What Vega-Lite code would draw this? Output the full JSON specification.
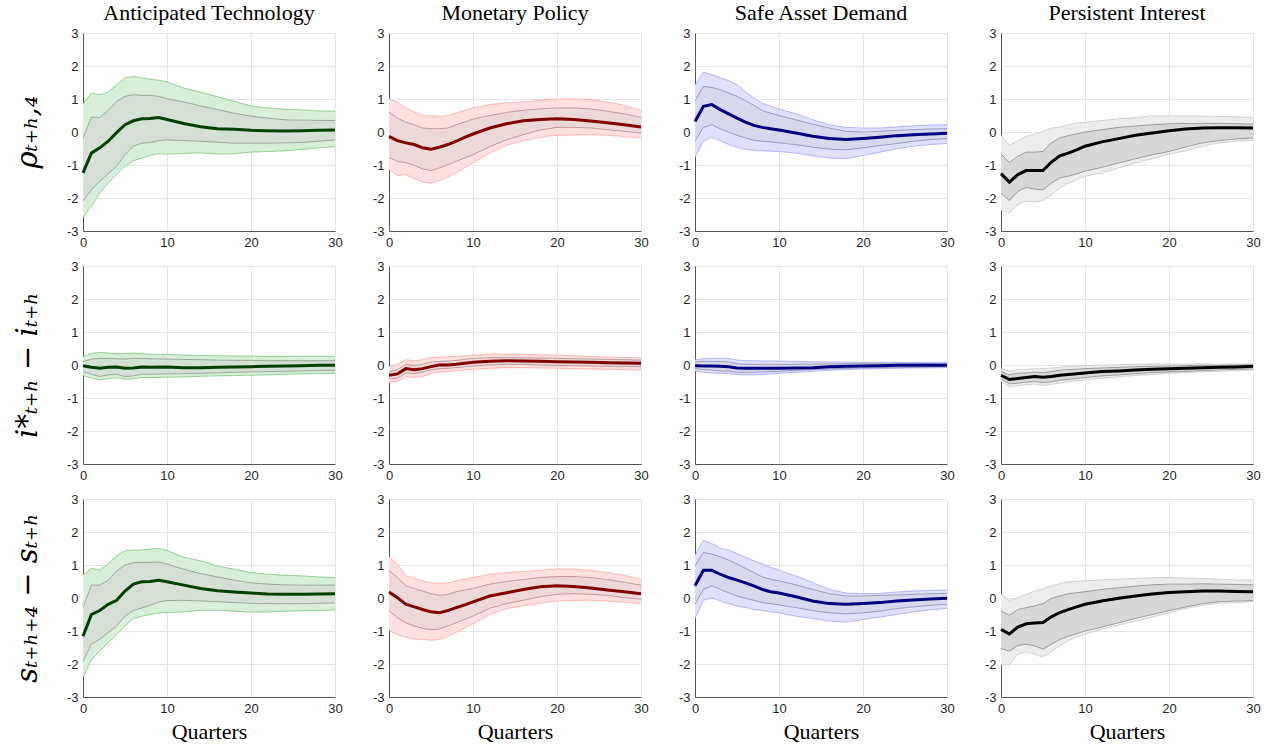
{
"$schema":"https://vega.github.io/schema/vega-lite/v6.json",
"padding":{"left":13,"top":2,"right":10,"bottom":5},
"background":"white",
"datasets":{"irf":[
{"row":1,"shock":"AT","h":0,"irf":-1.24,"lo68":-2.10,"hi68":-0.18,"lo90":-2.60,"hi90":0.85},
{"row":1,"shock":"AT","h":1,"irf":-0.64,"lo68":-1.75,"hi68":0.45,"lo90":-2.25,"hi90":1.18},
{"row":1,"shock":"AT","h":2,"irf":-0.48,"lo68":-1.50,"hi68":0.44,"lo90":-1.85,"hi90":1.13},
{"row":1,"shock":"AT","h":3,"irf":-0.28,"lo68":-1.26,"hi68":0.65,"lo90":-1.55,"hi90":1.21},
{"row":1,"shock":"AT","h":4,"irf":-0.02,"lo68":-1.04,"hi68":0.93,"lo90":-1.29,"hi90":1.43},
{"row":1,"shock":"AT","h":5,"irf":0.22,"lo68":-0.69,"hi68":1.08,"lo90":-1.04,"hi90":1.64},
{"row":1,"shock":"AT","h":6,"irf":0.34,"lo68":-0.43,"hi68":1.13,"lo90":-0.87,"hi90":1.68},
{"row":1,"shock":"AT","h":7,"irf":0.40,"lo68":-0.34,"hi68":1.11,"lo90":-0.79,"hi90":1.64},
{"row":1,"shock":"AT","h":8,"irf":0.41,"lo68":-0.32,"hi68":1.11,"lo90":-0.71,"hi90":1.60},
{"row":1,"shock":"AT","h":9,"irf":0.44,"lo68":-0.26,"hi68":1.08,"lo90":-0.66,"hi90":1.57},
{"row":1,"shock":"AT","h":10,"irf":0.38,"lo68":-0.24,"hi68":1.01,"lo90":-0.67,"hi90":1.52},
{"row":1,"shock":"AT","h":12,"irf":0.26,"lo68":-0.26,"hi68":0.91,"lo90":-0.65,"hi90":1.33},
{"row":1,"shock":"AT","h":14,"irf":0.16,"lo68":-0.28,"hi68":0.79,"lo90":-0.63,"hi90":1.21},
{"row":1,"shock":"AT","h":16,"irf":0.10,"lo68":-0.31,"hi68":0.68,"lo90":-0.67,"hi90":1.07},
{"row":1,"shock":"AT","h":18,"irf":0.08,"lo68":-0.34,"hi68":0.57,"lo90":-0.66,"hi90":0.93},
{"row":1,"shock":"AT","h":20,"irf":0.05,"lo68":-0.34,"hi68":0.48,"lo90":-0.61,"hi90":0.79},
{"row":1,"shock":"AT","h":22,"irf":0.04,"lo68":-0.34,"hi68":0.42,"lo90":-0.59,"hi90":0.73},
{"row":1,"shock":"AT","h":24,"irf":0.03,"lo68":-0.33,"hi68":0.37,"lo90":-0.57,"hi90":0.69},
{"row":1,"shock":"AT","h":26,"irf":0.04,"lo68":-0.32,"hi68":0.36,"lo90":-0.53,"hi90":0.67},
{"row":1,"shock":"AT","h":28,"irf":0.05,"lo68":-0.28,"hi68":0.35,"lo90":-0.48,"hi90":0.64},
{"row":1,"shock":"AT","h":30,"irf":0.06,"lo68":-0.24,"hi68":0.35,"lo90":-0.44,"hi90":0.63},
{"row":1,"shock":"MP","h":0,"irf":-0.13,"lo68":-0.77,"hi68":0.60,"lo90":-1.14,"hi90":1.00},
{"row":1,"shock":"MP","h":1,"irf":-0.26,"lo68":-0.89,"hi68":0.42,"lo90":-1.32,"hi90":0.91},
{"row":1,"shock":"MP","h":2,"irf":-0.33,"lo68":-0.93,"hi68":0.30,"lo90":-1.29,"hi90":0.73},
{"row":1,"shock":"MP","h":3,"irf":-0.38,"lo68":-1.01,"hi68":0.22,"lo90":-1.41,"hi90":0.61},
{"row":1,"shock":"MP","h":4,"irf":-0.48,"lo68":-1.12,"hi68":0.12,"lo90":-1.52,"hi90":0.50},
{"row":1,"shock":"MP","h":5,"irf":-0.52,"lo68":-1.17,"hi68":0.10,"lo90":-1.55,"hi90":0.49},
{"row":1,"shock":"MP","h":6,"irf":-0.46,"lo68":-1.09,"hi68":0.10,"lo90":-1.47,"hi90":0.47},
{"row":1,"shock":"MP","h":7,"irf":-0.38,"lo68":-0.99,"hi68":0.12,"lo90":-1.37,"hi90":0.50},
{"row":1,"shock":"MP","h":8,"irf":-0.28,"lo68":-0.89,"hi68":0.22,"lo90":-1.24,"hi90":0.58},
{"row":1,"shock":"MP","h":9,"irf":-0.16,"lo68":-0.79,"hi68":0.30,"lo90":-1.09,"hi90":0.66},
{"row":1,"shock":"MP","h":10,"irf":-0.06,"lo68":-0.69,"hi68":0.39,"lo90":-0.94,"hi90":0.73},
{"row":1,"shock":"MP","h":12,"irf":0.12,"lo68":-0.44,"hi68":0.50,"lo90":-0.64,"hi90":0.83},
{"row":1,"shock":"MP","h":14,"irf":0.25,"lo68":-0.24,"hi68":0.59,"lo90":-0.40,"hi90":0.88},
{"row":1,"shock":"MP","h":16,"irf":0.34,"lo68":-0.08,"hi68":0.66,"lo90":-0.26,"hi90":0.91},
{"row":1,"shock":"MP","h":18,"irf":0.38,"lo68":0.06,"hi68":0.70,"lo90":-0.16,"hi90":0.96},
{"row":1,"shock":"MP","h":20,"irf":0.40,"lo68":0.14,"hi68":0.73,"lo90":-0.10,"hi90":1.00},
{"row":1,"shock":"MP","h":22,"irf":0.38,"lo68":0.14,"hi68":0.73,"lo90":-0.09,"hi90":1.00},
{"row":1,"shock":"MP","h":24,"irf":0.33,"lo68":0.12,"hi68":0.70,"lo90":-0.08,"hi90":0.98},
{"row":1,"shock":"MP","h":26,"irf":0.28,"lo68":0.07,"hi68":0.63,"lo90":-0.10,"hi90":0.91},
{"row":1,"shock":"MP","h":28,"irf":0.22,"lo68":0.02,"hi68":0.55,"lo90":-0.14,"hi90":0.81},
{"row":1,"shock":"MP","h":30,"irf":0.15,"lo68":-0.03,"hi68":0.44,"lo90":-0.18,"hi90":0.65},
{"row":1,"shock":"SAD","h":0,"irf":0.32,"lo68":-0.28,"hi68":0.95,"lo90":-0.77,"hi90":1.41},
{"row":1,"shock":"SAD","h":1,"irf":0.78,"lo68":0.14,"hi68":1.38,"lo90":-0.28,"hi90":1.82},
{"row":1,"shock":"SAD","h":2,"irf":0.83,"lo68":0.22,"hi68":1.35,"lo90":-0.16,"hi90":1.74},
{"row":1,"shock":"SAD","h":3,"irf":0.68,"lo68":0.10,"hi68":1.28,"lo90":-0.26,"hi90":1.64},
{"row":1,"shock":"SAD","h":4,"irf":0.55,"lo68":0.00,"hi68":1.18,"lo90":-0.38,"hi90":1.56},
{"row":1,"shock":"SAD","h":5,"irf":0.42,"lo68":-0.10,"hi68":1.08,"lo90":-0.46,"hi90":1.43},
{"row":1,"shock":"SAD","h":6,"irf":0.30,"lo68":-0.18,"hi68":0.95,"lo90":-0.52,"hi90":1.23},
{"row":1,"shock":"SAD","h":7,"irf":0.20,"lo68":-0.25,"hi68":0.81,"lo90":-0.55,"hi90":1.03},
{"row":1,"shock":"SAD","h":8,"irf":0.14,"lo68":-0.28,"hi68":0.65,"lo90":-0.57,"hi90":0.88},
{"row":1,"shock":"SAD","h":9,"irf":0.10,"lo68":-0.30,"hi68":0.57,"lo90":-0.58,"hi90":0.78},
{"row":1,"shock":"SAD","h":10,"irf":0.06,"lo68":-0.33,"hi68":0.50,"lo90":-0.59,"hi90":0.70},
{"row":1,"shock":"SAD","h":12,"irf":-0.03,"lo68":-0.38,"hi68":0.37,"lo90":-0.64,"hi90":0.55},
{"row":1,"shock":"SAD","h":14,"irf":-0.13,"lo68":-0.46,"hi68":0.24,"lo90":-0.72,"hi90":0.37},
{"row":1,"shock":"SAD","h":16,"irf":-0.20,"lo68":-0.52,"hi68":0.12,"lo90":-0.79,"hi90":0.22},
{"row":1,"shock":"SAD","h":18,"irf":-0.23,"lo68":-0.54,"hi68":0.02,"lo90":-0.81,"hi90":0.14},
{"row":1,"shock":"SAD","h":20,"irf":-0.20,"lo68":-0.48,"hi68":0.00,"lo90":-0.71,"hi90":0.12},
{"row":1,"shock":"SAD","h":22,"irf":-0.16,"lo68":-0.41,"hi68":0.02,"lo90":-0.61,"hi90":0.12},
{"row":1,"shock":"SAD","h":24,"irf":-0.11,"lo68":-0.35,"hi68":0.05,"lo90":-0.51,"hi90":0.15},
{"row":1,"shock":"SAD","h":26,"irf":-0.08,"lo68":-0.28,"hi68":0.07,"lo90":-0.43,"hi90":0.19},
{"row":1,"shock":"SAD","h":28,"irf":-0.06,"lo68":-0.23,"hi68":0.09,"lo90":-0.38,"hi90":0.21},
{"row":1,"shock":"SAD","h":30,"irf":-0.04,"lo68":-0.20,"hi68":0.10,"lo90":-0.35,"hi90":0.22},
{"row":1,"shock":"PI","h":0,"irf":-1.26,"lo68":-1.85,"hi68":-0.67,"lo90":-2.38,"hi90":-0.10},
{"row":1,"shock":"PI","h":1,"irf":-1.52,"lo68":-2.08,"hi68":-0.92,"lo90":-2.45,"hi90":-0.40},
{"row":1,"shock":"PI","h":2,"irf":-1.29,"lo68":-1.80,"hi68":-0.74,"lo90":-2.20,"hi90":-0.26},
{"row":1,"shock":"PI","h":3,"irf":-1.17,"lo68":-1.68,"hi68":-0.61,"lo90":-2.10,"hi90":-0.13},
{"row":1,"shock":"PI","h":4,"irf":-1.17,"lo68":-1.73,"hi68":-0.61,"lo90":-2.12,"hi90":-0.06},
{"row":1,"shock":"PI","h":5,"irf":-1.17,"lo68":-1.75,"hi68":-0.59,"lo90":-2.08,"hi90":0.02},
{"row":1,"shock":"PI","h":6,"irf":-0.91,"lo68":-1.55,"hi68":-0.33,"lo90":-1.90,"hi90":0.12},
{"row":1,"shock":"PI","h":7,"irf":-0.72,"lo68":-1.39,"hi68":-0.18,"lo90":-1.70,"hi90":0.15},
{"row":1,"shock":"PI","h":8,"irf":-0.64,"lo68":-1.34,"hi68":-0.11,"lo90":-1.55,"hi90":0.22},
{"row":1,"shock":"PI","h":9,"irf":-0.54,"lo68":-1.27,"hi68":-0.06,"lo90":-1.44,"hi90":0.27},
{"row":1,"shock":"PI","h":10,"irf":-0.43,"lo68":-1.19,"hi68":0.00,"lo90":-1.34,"hi90":0.29},
{"row":1,"shock":"PI","h":12,"irf":-0.30,"lo68":-1.07,"hi68":0.07,"lo90":-1.24,"hi90":0.35},
{"row":1,"shock":"PI","h":14,"irf":-0.20,"lo68":-0.94,"hi68":0.14,"lo90":-1.09,"hi90":0.40},
{"row":1,"shock":"PI","h":16,"irf":-0.10,"lo68":-0.81,"hi68":0.18,"lo90":-0.94,"hi90":0.44},
{"row":1,"shock":"PI","h":18,"irf":-0.03,"lo68":-0.69,"hi68":0.22,"lo90":-0.81,"hi90":0.49},
{"row":1,"shock":"PI","h":20,"irf":0.04,"lo68":-0.59,"hi68":0.25,"lo90":-0.67,"hi90":0.49},
{"row":1,"shock":"PI","h":22,"irf":0.09,"lo68":-0.45,"hi68":0.26,"lo90":-0.57,"hi90":0.49},
{"row":1,"shock":"PI","h":24,"irf":0.12,"lo68":-0.33,"hi68":0.26,"lo90":-0.43,"hi90":0.48},
{"row":1,"shock":"PI","h":26,"irf":0.13,"lo68":-0.26,"hi68":0.26,"lo90":-0.33,"hi90":0.47},
{"row":1,"shock":"PI","h":28,"irf":0.13,"lo68":-0.21,"hi68":0.25,"lo90":-0.28,"hi90":0.46},
{"row":1,"shock":"PI","h":30,"irf":0.12,"lo68":-0.18,"hi68":0.24,"lo90":-0.25,"hi90":0.44},
{"row":2,"shock":"AT","h":0,"irf":-0.02,"lo68":-0.20,"hi68":0.10,"lo90":-0.32,"hi90":0.25},
{"row":2,"shock":"AT","h":1,"irf":-0.07,"lo68":-0.28,"hi68":0.18,"lo90":-0.40,"hi90":0.35},
{"row":2,"shock":"AT","h":2,"irf":-0.10,"lo68":-0.35,"hi68":0.20,"lo90":-0.45,"hi90":0.38},
{"row":2,"shock":"AT","h":3,"irf":-0.07,"lo68":-0.30,"hi68":0.20,"lo90":-0.42,"hi90":0.36},
{"row":2,"shock":"AT","h":4,"irf":-0.06,"lo68":-0.28,"hi68":0.19,"lo90":-0.38,"hi90":0.34},
{"row":2,"shock":"AT","h":5,"irf":-0.10,"lo68":-0.35,"hi68":0.18,"lo90":-0.43,"hi90":0.35},
{"row":2,"shock":"AT","h":6,"irf":-0.09,"lo68":-0.33,"hi68":0.20,"lo90":-0.42,"hi90":0.36},
{"row":2,"shock":"AT","h":7,"irf":-0.06,"lo68":-0.28,"hi68":0.20,"lo90":-0.38,"hi90":0.34},
{"row":2,"shock":"AT","h":8,"irf":-0.07,"lo68":-0.28,"hi68":0.19,"lo90":-0.38,"hi90":0.33},
{"row":2,"shock":"AT","h":10,"irf":-0.06,"lo68":-0.27,"hi68":0.18,"lo90":-0.37,"hi90":0.32},
{"row":2,"shock":"AT","h":12,"irf":-0.08,"lo68":-0.26,"hi68":0.17,"lo90":-0.36,"hi90":0.30},
{"row":2,"shock":"AT","h":14,"irf":-0.08,"lo68":-0.25,"hi68":0.16,"lo90":-0.34,"hi90":0.29},
{"row":2,"shock":"AT","h":16,"irf":-0.07,"lo68":-0.24,"hi68":0.15,"lo90":-0.33,"hi90":0.28},
{"row":2,"shock":"AT","h":18,"irf":-0.06,"lo68":-0.22,"hi68":0.14,"lo90":-0.32,"hi90":0.27},
{"row":2,"shock":"AT","h":20,"irf":-0.05,"lo68":-0.21,"hi68":0.14,"lo90":-0.31,"hi90":0.27},
{"row":2,"shock":"AT","h":22,"irf":-0.04,"lo68":-0.20,"hi68":0.13,"lo90":-0.30,"hi90":0.26},
{"row":2,"shock":"AT","h":24,"irf":-0.03,"lo68":-0.19,"hi68":0.13,"lo90":-0.28,"hi90":0.26},
{"row":2,"shock":"AT","h":26,"irf":-0.02,"lo68":-0.18,"hi68":0.13,"lo90":-0.27,"hi90":0.26},
{"row":2,"shock":"AT","h":28,"irf":-0.01,"lo68":-0.17,"hi68":0.13,"lo90":-0.26,"hi90":0.26},
{"row":2,"shock":"AT","h":30,"irf":-0.01,"lo68":-0.16,"hi68":0.13,"lo90":-0.25,"hi90":0.26},
{"row":2,"shock":"MP","h":0,"irf":-0.31,"lo68":-0.42,"hi68":-0.20,"lo90":-0.53,"hi90":-0.05},
{"row":2,"shock":"MP","h":1,"irf":-0.27,"lo68":-0.40,"hi68":-0.14,"lo90":-0.50,"hi90":0.02},
{"row":2,"shock":"MP","h":2,"irf":-0.11,"lo68":-0.24,"hi68":0.02,"lo90":-0.35,"hi90":0.16},
{"row":2,"shock":"MP","h":3,"irf":-0.14,"lo68":-0.26,"hi68":-0.02,"lo90":-0.38,"hi90":0.13},
{"row":2,"shock":"MP","h":4,"irf":-0.11,"lo68":-0.22,"hi68":0.02,"lo90":-0.35,"hi90":0.16},
{"row":2,"shock":"MP","h":5,"irf":-0.05,"lo68":-0.15,"hi68":0.09,"lo90":-0.26,"hi90":0.22},
{"row":2,"shock":"MP","h":6,"irf":0.00,"lo68":-0.11,"hi68":0.11,"lo90":-0.22,"hi90":0.24},
{"row":2,"shock":"MP","h":7,"irf":0.00,"lo68":-0.10,"hi68":0.12,"lo90":-0.20,"hi90":0.25},
{"row":2,"shock":"MP","h":8,"irf":0.02,"lo68":-0.08,"hi68":0.14,"lo90":-0.18,"hi90":0.26},
{"row":2,"shock":"MP","h":10,"irf":0.08,"lo68":-0.03,"hi68":0.20,"lo90":-0.13,"hi90":0.30},
{"row":2,"shock":"MP","h":12,"irf":0.11,"lo68":0.00,"hi68":0.22,"lo90":-0.10,"hi90":0.33},
{"row":2,"shock":"MP","h":14,"irf":0.13,"lo68":0.02,"hi68":0.23,"lo90":-0.08,"hi90":0.33},
{"row":2,"shock":"MP","h":16,"irf":0.12,"lo68":0.02,"hi68":0.22,"lo90":-0.08,"hi90":0.32},
{"row":2,"shock":"MP","h":18,"irf":0.11,"lo68":0.00,"hi68":0.21,"lo90":-0.09,"hi90":0.31},
{"row":2,"shock":"MP","h":20,"irf":0.10,"lo68":-0.01,"hi68":0.20,"lo90":-0.10,"hi90":0.30},
{"row":2,"shock":"MP","h":22,"irf":0.09,"lo68":-0.02,"hi68":0.19,"lo90":-0.11,"hi90":0.28},
{"row":2,"shock":"MP","h":24,"irf":0.08,"lo68":-0.03,"hi68":0.18,"lo90":-0.12,"hi90":0.26},
{"row":2,"shock":"MP","h":26,"irf":0.07,"lo68":-0.04,"hi68":0.17,"lo90":-0.13,"hi90":0.24},
{"row":2,"shock":"MP","h":28,"irf":0.06,"lo68":-0.04,"hi68":0.16,"lo90":-0.14,"hi90":0.23},
{"row":2,"shock":"MP","h":30,"irf":0.05,"lo68":-0.05,"hi68":0.15,"lo90":-0.15,"hi90":0.22},
{"row":2,"shock":"SAD","h":0,"irf":-0.02,"lo68":-0.11,"hi68":0.09,"lo90":-0.18,"hi90":0.16},
{"row":2,"shock":"SAD","h":1,"irf":-0.03,"lo68":-0.14,"hi68":0.11,"lo90":-0.22,"hi90":0.19},
{"row":2,"shock":"SAD","h":2,"irf":-0.03,"lo68":-0.15,"hi68":0.11,"lo90":-0.24,"hi90":0.20},
{"row":2,"shock":"SAD","h":3,"irf":-0.04,"lo68":-0.18,"hi68":0.11,"lo90":-0.25,"hi90":0.20},
{"row":2,"shock":"SAD","h":4,"irf":-0.05,"lo68":-0.18,"hi68":0.09,"lo90":-0.26,"hi90":0.20},
{"row":2,"shock":"SAD","h":5,"irf":-0.09,"lo68":-0.22,"hi68":0.04,"lo90":-0.29,"hi90":0.15},
{"row":2,"shock":"SAD","h":6,"irf":-0.10,"lo68":-0.22,"hi68":0.02,"lo90":-0.30,"hi90":0.13},
{"row":2,"shock":"SAD","h":7,"irf":-0.10,"lo68":-0.22,"hi68":0.02,"lo90":-0.30,"hi90":0.13},
{"row":2,"shock":"SAD","h":8,"irf":-0.10,"lo68":-0.21,"hi68":0.02,"lo90":-0.29,"hi90":0.12},
{"row":2,"shock":"SAD","h":10,"irf":-0.10,"lo68":-0.19,"hi68":0.02,"lo90":-0.25,"hi90":0.12},
{"row":2,"shock":"SAD","h":12,"irf":-0.09,"lo68":-0.16,"hi68":0.02,"lo90":-0.22,"hi90":0.11},
{"row":2,"shock":"SAD","h":14,"irf":-0.08,"lo68":-0.14,"hi68":0.03,"lo90":-0.19,"hi90":0.10},
{"row":2,"shock":"SAD","h":16,"irf":-0.05,"lo68":-0.12,"hi68":0.03,"lo90":-0.16,"hi90":0.09},
{"row":2,"shock":"SAD","h":18,"irf":-0.04,"lo68":-0.10,"hi68":0.04,"lo90":-0.14,"hi90":0.09},
{"row":2,"shock":"SAD","h":20,"irf":-0.03,"lo68":-0.09,"hi68":0.04,"lo90":-0.12,"hi90":0.08},
{"row":2,"shock":"SAD","h":22,"irf":-0.02,"lo68":-0.08,"hi68":0.04,"lo90":-0.11,"hi90":0.08},
{"row":2,"shock":"SAD","h":24,"irf":-0.01,"lo68":-0.07,"hi68":0.04,"lo90":-0.10,"hi90":0.08},
{"row":2,"shock":"SAD","h":26,"irf":-0.01,"lo68":-0.07,"hi68":0.04,"lo90":-0.09,"hi90":0.08},
{"row":2,"shock":"SAD","h":28,"irf":-0.01,"lo68":-0.06,"hi68":0.04,"lo90":-0.09,"hi90":0.08},
{"row":2,"shock":"SAD","h":30,"irf":-0.01,"lo68":-0.05,"hi68":0.04,"lo90":-0.08,"hi90":0.08},
{"row":2,"shock":"PI","h":0,"irf":-0.31,"lo68":-0.42,"hi68":-0.20,"lo90":-0.49,"hi90":-0.11},
{"row":2,"shock":"PI","h":1,"irf":-0.44,"lo68":-0.57,"hi68":-0.29,"lo90":-0.66,"hi90":-0.18},
{"row":2,"shock":"PI","h":2,"irf":-0.41,"lo68":-0.55,"hi68":-0.25,"lo90":-0.62,"hi90":-0.14},
{"row":2,"shock":"PI","h":3,"irf":-0.38,"lo68":-0.52,"hi68":-0.24,"lo90":-0.60,"hi90":-0.13},
{"row":2,"shock":"PI","h":4,"irf":-0.35,"lo68":-0.50,"hi68":-0.22,"lo90":-0.58,"hi90":-0.11},
{"row":2,"shock":"PI","h":5,"irf":-0.37,"lo68":-0.53,"hi68":-0.23,"lo90":-0.62,"hi90":-0.11},
{"row":2,"shock":"PI","h":6,"irf":-0.35,"lo68":-0.51,"hi68":-0.20,"lo90":-0.59,"hi90":-0.09},
{"row":2,"shock":"PI","h":7,"irf":-0.31,"lo68":-0.46,"hi68":-0.16,"lo90":-0.54,"hi90":-0.07},
{"row":2,"shock":"PI","h":8,"irf":-0.29,"lo68":-0.44,"hi68":-0.14,"lo90":-0.51,"hi90":-0.04},
{"row":2,"shock":"PI","h":10,"irf":-0.24,"lo68":-0.38,"hi68":-0.11,"lo90":-0.45,"hi90":-0.02},
{"row":2,"shock":"PI","h":12,"irf":-0.20,"lo68":-0.33,"hi68":-0.09,"lo90":-0.40,"hi90":0.00},
{"row":2,"shock":"PI","h":14,"irf":-0.18,"lo68":-0.30,"hi68":-0.07,"lo90":-0.36,"hi90":0.01},
{"row":2,"shock":"PI","h":16,"irf":-0.15,"lo68":-0.26,"hi68":-0.05,"lo90":-0.32,"hi90":0.02},
{"row":2,"shock":"PI","h":18,"irf":-0.13,"lo68":-0.23,"hi68":-0.04,"lo90":-0.29,"hi90":0.03},
{"row":2,"shock":"PI","h":20,"irf":-0.11,"lo68":-0.21,"hi68":-0.03,"lo90":-0.25,"hi90":0.03},
{"row":2,"shock":"PI","h":22,"irf":-0.10,"lo68":-0.19,"hi68":-0.02,"lo90":-0.23,"hi90":0.03},
{"row":2,"shock":"PI","h":24,"irf":-0.08,"lo68":-0.17,"hi68":-0.01,"lo90":-0.21,"hi90":0.03},
{"row":2,"shock":"PI","h":26,"irf":-0.07,"lo68":-0.15,"hi68":-0.01,"lo90":-0.19,"hi90":0.03},
{"row":2,"shock":"PI","h":28,"irf":-0.06,"lo68":-0.13,"hi68":0.00,"lo90":-0.17,"hi90":0.03},
{"row":2,"shock":"PI","h":30,"irf":-0.04,"lo68":-0.12,"hi68":0.00,"lo90":-0.15,"hi90":0.03},
{"row":3,"shock":"AT","h":0,"irf":-1.16,"lo68":-1.92,"hi68":-0.29,"lo90":-2.41,"hi90":0.70},
{"row":3,"shock":"AT","h":1,"irf":-0.50,"lo68":-1.40,"hi68":0.39,"lo90":-1.87,"hi90":0.90},
{"row":3,"shock":"AT","h":2,"irf":-0.38,"lo68":-1.25,"hi68":0.39,"lo90":-1.61,"hi90":0.84},
{"row":3,"shock":"AT","h":3,"irf":-0.19,"lo68":-1.05,"hi68":0.54,"lo90":-1.36,"hi90":1.03},
{"row":3,"shock":"AT","h":4,"irf":-0.07,"lo68":-0.85,"hi68":0.82,"lo90":-1.11,"hi90":1.28},
{"row":3,"shock":"AT","h":5,"irf":0.21,"lo68":-0.55,"hi68":1.00,"lo90":-0.85,"hi90":1.43},
{"row":3,"shock":"AT","h":6,"irf":0.42,"lo68":-0.38,"hi68":1.07,"lo90":-0.62,"hi90":1.45},
{"row":3,"shock":"AT","h":7,"irf":0.49,"lo68":-0.30,"hi68":1.08,"lo90":-0.55,"hi90":1.46},
{"row":3,"shock":"AT","h":8,"irf":0.50,"lo68":-0.22,"hi68":1.08,"lo90":-0.50,"hi90":1.48},
{"row":3,"shock":"AT","h":9,"irf":0.54,"lo68":-0.12,"hi68":1.09,"lo90":-0.45,"hi90":1.50},
{"row":3,"shock":"AT","h":10,"irf":0.49,"lo68":-0.08,"hi68":1.03,"lo90":-0.44,"hi90":1.45},
{"row":3,"shock":"AT","h":12,"irf":0.39,"lo68":-0.07,"hi68":0.87,"lo90":-0.42,"hi90":1.23},
{"row":3,"shock":"AT","h":14,"irf":0.29,"lo68":-0.09,"hi68":0.74,"lo90":-0.37,"hi90":1.13},
{"row":3,"shock":"AT","h":16,"irf":0.22,"lo68":-0.11,"hi68":0.64,"lo90":-0.37,"hi90":0.97},
{"row":3,"shock":"AT","h":18,"irf":0.18,"lo68":-0.14,"hi68":0.54,"lo90":-0.40,"hi90":0.87},
{"row":3,"shock":"AT","h":20,"irf":0.15,"lo68":-0.16,"hi68":0.46,"lo90":-0.43,"hi90":0.77},
{"row":3,"shock":"AT","h":22,"irf":0.12,"lo68":-0.17,"hi68":0.42,"lo90":-0.42,"hi90":0.72},
{"row":3,"shock":"AT","h":24,"irf":0.11,"lo68":-0.17,"hi68":0.40,"lo90":-0.40,"hi90":0.69},
{"row":3,"shock":"AT","h":26,"irf":0.11,"lo68":-0.17,"hi68":0.39,"lo90":-0.39,"hi90":0.67},
{"row":3,"shock":"AT","h":28,"irf":0.12,"lo68":-0.16,"hi68":0.39,"lo90":-0.38,"hi90":0.64},
{"row":3,"shock":"AT","h":30,"irf":0.13,"lo68":-0.15,"hi68":0.39,"lo90":-0.36,"hi90":0.62},
{"row":3,"shock":"MP","h":0,"irf":0.18,"lo68":-0.38,"hi68":0.84,"lo90":-0.98,"hi90":1.25},
{"row":3,"shock":"MP","h":1,"irf":0.01,"lo68":-0.60,"hi68":0.62,"lo90":-1.11,"hi90":1.03},
{"row":3,"shock":"MP","h":2,"irf":-0.19,"lo68":-0.75,"hi68":0.37,"lo90":-1.19,"hi90":0.67},
{"row":3,"shock":"MP","h":3,"irf":-0.27,"lo68":-0.85,"hi68":0.29,"lo90":-1.24,"hi90":0.60},
{"row":3,"shock":"MP","h":4,"irf":-0.35,"lo68":-0.92,"hi68":0.21,"lo90":-1.26,"hi90":0.52},
{"row":3,"shock":"MP","h":5,"irf":-0.42,"lo68":-0.96,"hi68":0.13,"lo90":-1.28,"hi90":0.46},
{"row":3,"shock":"MP","h":6,"irf":-0.45,"lo68":-0.94,"hi68":0.08,"lo90":-1.26,"hi90":0.44},
{"row":3,"shock":"MP","h":7,"irf":-0.38,"lo68":-0.85,"hi68":0.11,"lo90":-1.16,"hi90":0.46},
{"row":3,"shock":"MP","h":8,"irf":-0.29,"lo68":-0.75,"hi68":0.19,"lo90":-1.04,"hi90":0.52},
{"row":3,"shock":"MP","h":9,"irf":-0.21,"lo68":-0.65,"hi68":0.24,"lo90":-0.91,"hi90":0.57},
{"row":3,"shock":"MP","h":10,"irf":-0.12,"lo68":-0.55,"hi68":0.29,"lo90":-0.78,"hi90":0.62},
{"row":3,"shock":"MP","h":12,"irf":0.06,"lo68":-0.31,"hi68":0.42,"lo90":-0.50,"hi90":0.72},
{"row":3,"shock":"MP","h":14,"irf":0.16,"lo68":-0.17,"hi68":0.50,"lo90":-0.32,"hi90":0.77},
{"row":3,"shock":"MP","h":16,"irf":0.26,"lo68":-0.07,"hi68":0.56,"lo90":-0.24,"hi90":0.80},
{"row":3,"shock":"MP","h":18,"irf":0.34,"lo68":0.04,"hi68":0.62,"lo90":-0.16,"hi90":0.84},
{"row":3,"shock":"MP","h":20,"irf":0.37,"lo68":0.11,"hi68":0.65,"lo90":-0.09,"hi90":0.88},
{"row":3,"shock":"MP","h":22,"irf":0.35,"lo68":0.13,"hi68":0.65,"lo90":-0.07,"hi90":0.88},
{"row":3,"shock":"MP","h":24,"irf":0.30,"lo68":0.11,"hi68":0.62,"lo90":-0.07,"hi90":0.84},
{"row":3,"shock":"MP","h":26,"irf":0.24,"lo68":0.08,"hi68":0.56,"lo90":-0.09,"hi90":0.77},
{"row":3,"shock":"MP","h":28,"irf":0.19,"lo68":0.01,"hi68":0.48,"lo90":-0.13,"hi90":0.69},
{"row":3,"shock":"MP","h":30,"irf":0.13,"lo68":-0.04,"hi68":0.39,"lo90":-0.17,"hi90":0.57},
{"row":3,"shock":"SAD","h":0,"irf":0.37,"lo68":-0.19,"hi68":0.97,"lo90":-0.62,"hi90":1.30},
{"row":3,"shock":"SAD","h":1,"irf":0.84,"lo68":0.26,"hi68":1.38,"lo90":-0.07,"hi90":1.74},
{"row":3,"shock":"SAD","h":2,"irf":0.84,"lo68":0.37,"hi68":1.33,"lo90":0.01,"hi90":1.65},
{"row":3,"shock":"SAD","h":3,"irf":0.72,"lo68":0.26,"hi68":1.25,"lo90":-0.09,"hi90":1.51},
{"row":3,"shock":"SAD","h":4,"irf":0.62,"lo68":0.16,"hi68":1.15,"lo90":-0.17,"hi90":1.45},
{"row":3,"shock":"SAD","h":5,"irf":0.54,"lo68":0.06,"hi68":1.03,"lo90":-0.24,"hi90":1.35},
{"row":3,"shock":"SAD","h":6,"irf":0.46,"lo68":-0.01,"hi68":0.90,"lo90":-0.29,"hi90":1.23},
{"row":3,"shock":"SAD","h":7,"irf":0.37,"lo68":-0.07,"hi68":0.77,"lo90":-0.35,"hi90":1.13},
{"row":3,"shock":"SAD","h":8,"irf":0.26,"lo68":-0.14,"hi68":0.64,"lo90":-0.38,"hi90":1.03},
{"row":3,"shock":"SAD","h":9,"irf":0.19,"lo68":-0.17,"hi68":0.57,"lo90":-0.42,"hi90":0.93},
{"row":3,"shock":"SAD","h":10,"irf":0.15,"lo68":-0.21,"hi68":0.52,"lo90":-0.45,"hi90":0.84},
{"row":3,"shock":"SAD","h":12,"irf":0.04,"lo68":-0.29,"hi68":0.40,"lo90":-0.55,"hi90":0.67},
{"row":3,"shock":"SAD","h":14,"irf":-0.09,"lo68":-0.38,"hi68":0.26,"lo90":-0.62,"hi90":0.47},
{"row":3,"shock":"SAD","h":16,"irf":-0.17,"lo68":-0.45,"hi68":0.13,"lo90":-0.70,"hi90":0.26},
{"row":3,"shock":"SAD","h":18,"irf":-0.19,"lo68":-0.48,"hi68":0.06,"lo90":-0.73,"hi90":0.15},
{"row":3,"shock":"SAD","h":20,"irf":-0.17,"lo68":-0.45,"hi68":0.06,"lo90":-0.65,"hi90":0.13},
{"row":3,"shock":"SAD","h":22,"irf":-0.14,"lo68":-0.40,"hi68":0.08,"lo90":-0.58,"hi90":0.14},
{"row":3,"shock":"SAD","h":24,"irf":-0.09,"lo68":-0.32,"hi68":0.09,"lo90":-0.50,"hi90":0.18},
{"row":3,"shock":"SAD","h":26,"irf":-0.06,"lo68":-0.27,"hi68":0.11,"lo90":-0.42,"hi90":0.21},
{"row":3,"shock":"SAD","h":28,"irf":-0.03,"lo68":-0.22,"hi68":0.13,"lo90":-0.36,"hi90":0.23},
{"row":3,"shock":"SAD","h":30,"irf":-0.01,"lo68":-0.19,"hi68":0.14,"lo90":-0.31,"hi90":0.24},
{"row":3,"shock":"PI","h":0,"irf":-0.95,"lo68":-1.53,"hi68":-0.40,"lo90":-2.02,"hi90":0.11},
{"row":3,"shock":"PI","h":1,"irf":-1.09,"lo68":-1.61,"hi68":-0.52,"lo90":-2.04,"hi90":-0.07},
{"row":3,"shock":"PI","h":2,"irf":-0.88,"lo68":-1.44,"hi68":-0.35,"lo90":-1.70,"hi90":0.01},
{"row":3,"shock":"PI","h":3,"irf":-0.78,"lo68":-1.40,"hi68":-0.29,"lo90":-1.64,"hi90":0.11},
{"row":3,"shock":"PI","h":4,"irf":-0.76,"lo68":-1.45,"hi68":-0.24,"lo90":-1.70,"hi90":0.21},
{"row":3,"shock":"PI","h":5,"irf":-0.74,"lo68":-1.55,"hi68":-0.17,"lo90":-1.80,"hi90":0.28},
{"row":3,"shock":"PI","h":6,"irf":-0.57,"lo68":-1.40,"hi68":-0.01,"lo90":-1.62,"hi90":0.37},
{"row":3,"shock":"PI","h":7,"irf":-0.44,"lo68":-1.26,"hi68":0.06,"lo90":-1.45,"hi90":0.44},
{"row":3,"shock":"PI","h":8,"irf":-0.35,"lo68":-1.16,"hi68":0.13,"lo90":-1.30,"hi90":0.49},
{"row":3,"shock":"PI","h":9,"irf":-0.27,"lo68":-1.08,"hi68":0.16,"lo90":-1.18,"hi90":0.51},
{"row":3,"shock":"PI","h":10,"irf":-0.19,"lo68":-1.00,"hi68":0.19,"lo90":-1.09,"hi90":0.52},
{"row":3,"shock":"PI","h":12,"irf":-0.09,"lo68":-0.88,"hi68":0.26,"lo90":-0.95,"hi90":0.55},
{"row":3,"shock":"PI","h":14,"irf":-0.01,"lo68":-0.75,"hi68":0.31,"lo90":-0.82,"hi90":0.57},
{"row":3,"shock":"PI","h":16,"irf":0.06,"lo68":-0.62,"hi68":0.36,"lo90":-0.70,"hi90":0.59},
{"row":3,"shock":"PI","h":18,"irf":0.12,"lo68":-0.50,"hi68":0.40,"lo90":-0.58,"hi90":0.62},
{"row":3,"shock":"PI","h":20,"irf":0.17,"lo68":-0.38,"hi68":0.42,"lo90":-0.45,"hi90":0.62},
{"row":3,"shock":"PI","h":22,"irf":0.19,"lo68":-0.27,"hi68":0.42,"lo90":-0.32,"hi90":0.60},
{"row":3,"shock":"PI","h":24,"irf":0.21,"lo68":-0.17,"hi68":0.43,"lo90":-0.22,"hi90":0.59},
{"row":3,"shock":"PI","h":26,"irf":0.21,"lo68":-0.11,"hi68":0.42,"lo90":-0.16,"hi90":0.57},
{"row":3,"shock":"PI","h":28,"irf":0.20,"lo68":-0.09,"hi68":0.41,"lo90":-0.14,"hi90":0.55},
{"row":3,"shock":"PI","h":30,"irf":0.19,"lo68":-0.08,"hi68":0.40,"lo90":-0.11,"hi90":0.54}
]},
"data":{"name":"irf"},
"vconcat":[
{"transform":[{"filter":"datum.row==1"}],
 "facet":{"row":{"field":"row","type":"nominal","header":{"title":null,"labelExpr":"'ρₜ₊ₕ,₄'"}},
  "column":{"field":"shock","type":"nominal","sort":["AT","MP","SAD","PI"],"header":{"title":null,"labelExpr":"datum.value=='AT'?'Anticipated Technology':datum.value=='MP'?'Monetary Policy':datum.value=='SAD'?'Safe Asset Demand':'Persistent Interest'"}}},
 "spacing":{"column":28},
 "resolve":{"axis":{"x":"independent","y":"independent"}},
 "spec":{"width":252,"height":198,
  "encoding":{"x":{"field":"h","type":"quantitative","scale":{"domain":[0,30],"nice":false},"axis":{"values":[0,10,20,30],"title":null}}},
  "layer":[
   {"mark":{"type":"area"},"encoding":{"y":{"field":"lo90","type":"quantitative","scale":{"domain":[-3,3],"nice":false},"axis":{"values":[-3,-2,-1,0,1,2,3],"tickCount":7,"labelOverlap":false,"title":null,"labelExpr":"''+datum.value"}},"y2":{"field":"hi90"},"fill":{"field":"shock","type":"nominal","scale":{"domain":["AT","MP","SAD","PI"],"range":["#d8eed8","#ffe0e0","#e0e0ff","#ececec"]},"legend":null}}},
   {"mark":{"type":"area"},"encoding":{"y":{"field":"lo68","type":"quantitative","scale":{"domain":[-3,3],"nice":false},"axis":{"values":[-3,-2,-1,0,1,2,3],"tickCount":7,"labelOverlap":false,"title":null,"labelExpr":"''+datum.value"}},"y2":{"field":"hi68"},"fill":{"field":"shock","type":"nominal","scale":{"domain":["AT","MP","SAD","PI"],"range":["#d5dfd5","#ecd8d9","#d8d8ec","#d7d7d7"]},"legend":null}}},
   {"transform":[{"filter":"datum.h==0"}],"mark":{"type":"rule","color":"black","strokeWidth":1},"encoding":{"y":{"datum":0,"type":"quantitative","axis":{"values":[-3,-2,-1,0,1,2,3],"tickCount":7,"labelOverlap":false,"title":null,"labelExpr":"''+datum.value"}}}},
   {"mark":{"type":"line","strokeWidth":0.8},"encoding":{"y":{"field":"lo90","type":"quantitative","scale":{"domain":[-3,3],"nice":false},"axis":{"values":[-3,-2,-1,0,1,2,3],"tickCount":7,"labelOverlap":false,"title":null,"labelExpr":"''+datum.value"}},"stroke":{"field":"shock","type":"nominal","scale":{"domain":["AT","MP","SAD","PI"],"range":["#80c480","#ffa4a4","#a4a4ff","#c8c8c8"]},"legend":null}}},
   {"mark":{"type":"line","strokeWidth":0.8},"encoding":{"y":{"field":"hi90","type":"quantitative","scale":{"domain":[-3,3],"nice":false},"axis":{"values":[-3,-2,-1,0,1,2,3],"tickCount":7,"labelOverlap":false,"title":null,"labelExpr":"''+datum.value"}},"stroke":{"field":"shock","type":"nominal","scale":{"domain":["AT","MP","SAD","PI"],"range":["#80c480","#ffa4a4","#a4a4ff","#c8c8c8"]},"legend":null}}},
   {"mark":{"type":"line","strokeWidth":0.8},"encoding":{"y":{"field":"lo68","type":"quantitative","scale":{"domain":[-3,3],"nice":false},"axis":{"values":[-3,-2,-1,0,1,2,3],"tickCount":7,"labelOverlap":false,"title":null,"labelExpr":"''+datum.value"}},"stroke":{"field":"shock","type":"nominal","scale":{"domain":["AT","MP","SAD","PI"],"range":["#8c9c8c","#b48a8a","#8a8aac","#8c8c8c"]},"legend":null}}},
   {"mark":{"type":"line","strokeWidth":0.8},"encoding":{"y":{"field":"hi68","type":"quantitative","scale":{"domain":[-3,3],"nice":false},"axis":{"values":[-3,-2,-1,0,1,2,3],"tickCount":7,"labelOverlap":false,"title":null,"labelExpr":"''+datum.value"}},"stroke":{"field":"shock","type":"nominal","scale":{"domain":["AT","MP","SAD","PI"],"range":["#8c9c8c","#b48a8a","#8a8aac","#8c8c8c"]},"legend":null}}},
   {"mark":{"type":"line","strokeWidth":3},"encoding":{"y":{"field":"irf","type":"quantitative","scale":{"domain":[-3,3],"nice":false},"axis":{"values":[-3,-2,-1,0,1,2,3],"tickCount":7,"labelOverlap":false,"title":null,"labelExpr":"''+datum.value"}},"stroke":{"field":"shock","type":"nominal","scale":{"domain":["AT","MP","SAD","PI"],"range":["#003f00","#800000","#000080","#000000"]},"legend":null}}}
  ],
  "resolve":{"scale":{"fill":"independent","stroke":"independent"}}}
},
{"transform":[{"filter":"datum.row==2"}],
 "facet":{"row":{"field":"row","type":"nominal","header":{"title":null,"labelExpr":"'i*ₜ₊ₕ − iₜ₊ₕ'"}},
  "column":{"field":"shock","type":"nominal","sort":["AT","MP","SAD","PI"],"header":{"title":null,"labels":false}}},
 "spacing":{"column":28},
 "resolve":{"axis":{"x":"independent","y":"independent"}},
 "spec":{"width":252,"height":198,
  "encoding":{"x":{"field":"h","type":"quantitative","scale":{"domain":[0,30],"nice":false},"axis":{"values":[0,10,20,30],"title":null}}},
  "layer":[
   {"mark":{"type":"area"},"encoding":{"y":{"field":"lo90","type":"quantitative","scale":{"domain":[-3,3],"nice":false},"axis":{"values":[-3,-2,-1,0,1,2,3],"tickCount":7,"labelOverlap":false,"title":null,"labelExpr":"''+datum.value"}},"y2":{"field":"hi90"},"fill":{"field":"shock","type":"nominal","scale":{"domain":["AT","MP","SAD","PI"],"range":["#d8eed8","#ffe0e0","#e0e0ff","#ececec"]},"legend":null}}},
   {"mark":{"type":"area"},"encoding":{"y":{"field":"lo68","type":"quantitative","scale":{"domain":[-3,3],"nice":false},"axis":{"values":[-3,-2,-1,0,1,2,3],"tickCount":7,"labelOverlap":false,"title":null,"labelExpr":"''+datum.value"}},"y2":{"field":"hi68"},"fill":{"field":"shock","type":"nominal","scale":{"domain":["AT","MP","SAD","PI"],"range":["#d5dfd5","#ecd8d9","#d8d8ec","#d7d7d7"]},"legend":null}}},
   {"transform":[{"filter":"datum.h==0"}],"mark":{"type":"rule","color":"black","strokeWidth":1},"encoding":{"y":{"datum":0,"type":"quantitative","axis":{"values":[-3,-2,-1,0,1,2,3],"tickCount":7,"labelOverlap":false,"title":null,"labelExpr":"''+datum.value"}}}},
   {"mark":{"type":"line","strokeWidth":0.8},"encoding":{"y":{"field":"lo90","type":"quantitative","scale":{"domain":[-3,3],"nice":false},"axis":{"values":[-3,-2,-1,0,1,2,3],"tickCount":7,"labelOverlap":false,"title":null,"labelExpr":"''+datum.value"}},"stroke":{"field":"shock","type":"nominal","scale":{"domain":["AT","MP","SAD","PI"],"range":["#80c480","#ffa4a4","#a4a4ff","#c8c8c8"]},"legend":null}}},
   {"mark":{"type":"line","strokeWidth":0.8},"encoding":{"y":{"field":"hi90","type":"quantitative","scale":{"domain":[-3,3],"nice":false},"axis":{"values":[-3,-2,-1,0,1,2,3],"tickCount":7,"labelOverlap":false,"title":null,"labelExpr":"''+datum.value"}},"stroke":{"field":"shock","type":"nominal","scale":{"domain":["AT","MP","SAD","PI"],"range":["#80c480","#ffa4a4","#a4a4ff","#c8c8c8"]},"legend":null}}},
   {"mark":{"type":"line","strokeWidth":0.8},"encoding":{"y":{"field":"lo68","type":"quantitative","scale":{"domain":[-3,3],"nice":false},"axis":{"values":[-3,-2,-1,0,1,2,3],"tickCount":7,"labelOverlap":false,"title":null,"labelExpr":"''+datum.value"}},"stroke":{"field":"shock","type":"nominal","scale":{"domain":["AT","MP","SAD","PI"],"range":["#8c9c8c","#b48a8a","#8a8aac","#8c8c8c"]},"legend":null}}},
   {"mark":{"type":"line","strokeWidth":0.8},"encoding":{"y":{"field":"hi68","type":"quantitative","scale":{"domain":[-3,3],"nice":false},"axis":{"values":[-3,-2,-1,0,1,2,3],"tickCount":7,"labelOverlap":false,"title":null,"labelExpr":"''+datum.value"}},"stroke":{"field":"shock","type":"nominal","scale":{"domain":["AT","MP","SAD","PI"],"range":["#8c9c8c","#b48a8a","#8a8aac","#8c8c8c"]},"legend":null}}},
   {"mark":{"type":"line","strokeWidth":3},"encoding":{"y":{"field":"irf","type":"quantitative","scale":{"domain":[-3,3],"nice":false},"axis":{"values":[-3,-2,-1,0,1,2,3],"tickCount":7,"labelOverlap":false,"title":null,"labelExpr":"''+datum.value"}},"stroke":{"field":"shock","type":"nominal","scale":{"domain":["AT","MP","SAD","PI"],"range":["#003f00","#800000","#000080","#000000"]},"legend":null}}}
  ],
  "resolve":{"scale":{"fill":"independent","stroke":"independent"}}}
},
{"transform":[{"filter":"datum.row==3"}],
 "facet":{"row":{"field":"row","type":"nominal","header":{"title":null,"labelExpr":"'sₜ₊ₕ₊₄ − sₜ₊ₕ'"}},
  "column":{"field":"shock","type":"nominal","sort":["AT","MP","SAD","PI"],"header":{"title":null,"labels":false}}},
 "spacing":{"column":28},
 "resolve":{"axis":{"x":"independent","y":"independent"}},
 "spec":{"width":252,"height":198,
  "encoding":{"x":{"field":"h","type":"quantitative","scale":{"domain":[0,30],"nice":false},"axis":{"values":[0,10,20,30],"title":"Quarters"}}},
  "layer":[
   {"mark":{"type":"area"},"encoding":{"y":{"field":"lo90","type":"quantitative","scale":{"domain":[-3,3],"nice":false},"axis":{"values":[-3,-2,-1,0,1,2,3],"tickCount":7,"labelOverlap":false,"title":null,"labelExpr":"''+datum.value"}},"y2":{"field":"hi90"},"fill":{"field":"shock","type":"nominal","scale":{"domain":["AT","MP","SAD","PI"],"range":["#d8eed8","#ffe0e0","#e0e0ff","#ececec"]},"legend":null}}},
   {"mark":{"type":"area"},"encoding":{"y":{"field":"lo68","type":"quantitative","scale":{"domain":[-3,3],"nice":false},"axis":{"values":[-3,-2,-1,0,1,2,3],"tickCount":7,"labelOverlap":false,"title":null,"labelExpr":"''+datum.value"}},"y2":{"field":"hi68"},"fill":{"field":"shock","type":"nominal","scale":{"domain":["AT","MP","SAD","PI"],"range":["#d5dfd5","#ecd8d9","#d8d8ec","#d7d7d7"]},"legend":null}}},
   {"transform":[{"filter":"datum.h==0"}],"mark":{"type":"rule","color":"black","strokeWidth":1},"encoding":{"y":{"datum":0,"type":"quantitative","axis":{"values":[-3,-2,-1,0,1,2,3],"tickCount":7,"labelOverlap":false,"title":null,"labelExpr":"''+datum.value"}}}},
   {"mark":{"type":"line","strokeWidth":0.8},"encoding":{"y":{"field":"lo90","type":"quantitative","scale":{"domain":[-3,3],"nice":false},"axis":{"values":[-3,-2,-1,0,1,2,3],"tickCount":7,"labelOverlap":false,"title":null,"labelExpr":"''+datum.value"}},"stroke":{"field":"shock","type":"nominal","scale":{"domain":["AT","MP","SAD","PI"],"range":["#80c480","#ffa4a4","#a4a4ff","#c8c8c8"]},"legend":null}}},
   {"mark":{"type":"line","strokeWidth":0.8},"encoding":{"y":{"field":"hi90","type":"quantitative","scale":{"domain":[-3,3],"nice":false},"axis":{"values":[-3,-2,-1,0,1,2,3],"tickCount":7,"labelOverlap":false,"title":null,"labelExpr":"''+datum.value"}},"stroke":{"field":"shock","type":"nominal","scale":{"domain":["AT","MP","SAD","PI"],"range":["#80c480","#ffa4a4","#a4a4ff","#c8c8c8"]},"legend":null}}},
   {"mark":{"type":"line","strokeWidth":0.8},"encoding":{"y":{"field":"lo68","type":"quantitative","scale":{"domain":[-3,3],"nice":false},"axis":{"values":[-3,-2,-1,0,1,2,3],"tickCount":7,"labelOverlap":false,"title":null,"labelExpr":"''+datum.value"}},"stroke":{"field":"shock","type":"nominal","scale":{"domain":["AT","MP","SAD","PI"],"range":["#8c9c8c","#b48a8a","#8a8aac","#8c8c8c"]},"legend":null}}},
   {"mark":{"type":"line","strokeWidth":0.8},"encoding":{"y":{"field":"hi68","type":"quantitative","scale":{"domain":[-3,3],"nice":false},"axis":{"values":[-3,-2,-1,0,1,2,3],"tickCount":7,"labelOverlap":false,"title":null,"labelExpr":"''+datum.value"}},"stroke":{"field":"shock","type":"nominal","scale":{"domain":["AT","MP","SAD","PI"],"range":["#8c9c8c","#b48a8a","#8a8aac","#8c8c8c"]},"legend":null}}},
   {"mark":{"type":"line","strokeWidth":3},"encoding":{"y":{"field":"irf","type":"quantitative","scale":{"domain":[-3,3],"nice":false},"axis":{"values":[-3,-2,-1,0,1,2,3],"tickCount":7,"labelOverlap":false,"title":null,"labelExpr":"''+datum.value"}},"stroke":{"field":"shock","type":"nominal","scale":{"domain":["AT","MP","SAD","PI"],"range":["#003f00","#800000","#000080","#000000"]},"legend":null}}}
  ],
  "resolve":{"scale":{"fill":"independent","stroke":"independent"}}}
}
],
"spacing":9,
"config":{
 "view":{"stroke":"#d2d2d2","strokeWidth":1},
 "axis":{"grid":true,"gridColor":"#e4e4e4","gridWidth":1,"domainColor":"#555555","domainWidth":1,"ticks":false,"labelFont":"Liberation Sans","labelFontSize":13,"labelColor":"#262626","labelPadding":5,"labelFlush":false,"labelOverlap":false,"titleFont":"Liberation Serif","titleFontSize":22,"titleFontWeight":"normal","titleColor":"#000000","titlePadding":6},
 "headerRow":{"labelAngle":-90,"labelOrient":"left","labelFont":"DejaVu Serif","labelFontStyle":"italic","labelFontSize":29,"labelPadding":8,"labelColor":"#000000"},
 "headerColumn":{"labelFont":"Liberation Serif","labelFontSize":22,"labelPadding":1,"labelColor":"#000000"}
}
}
